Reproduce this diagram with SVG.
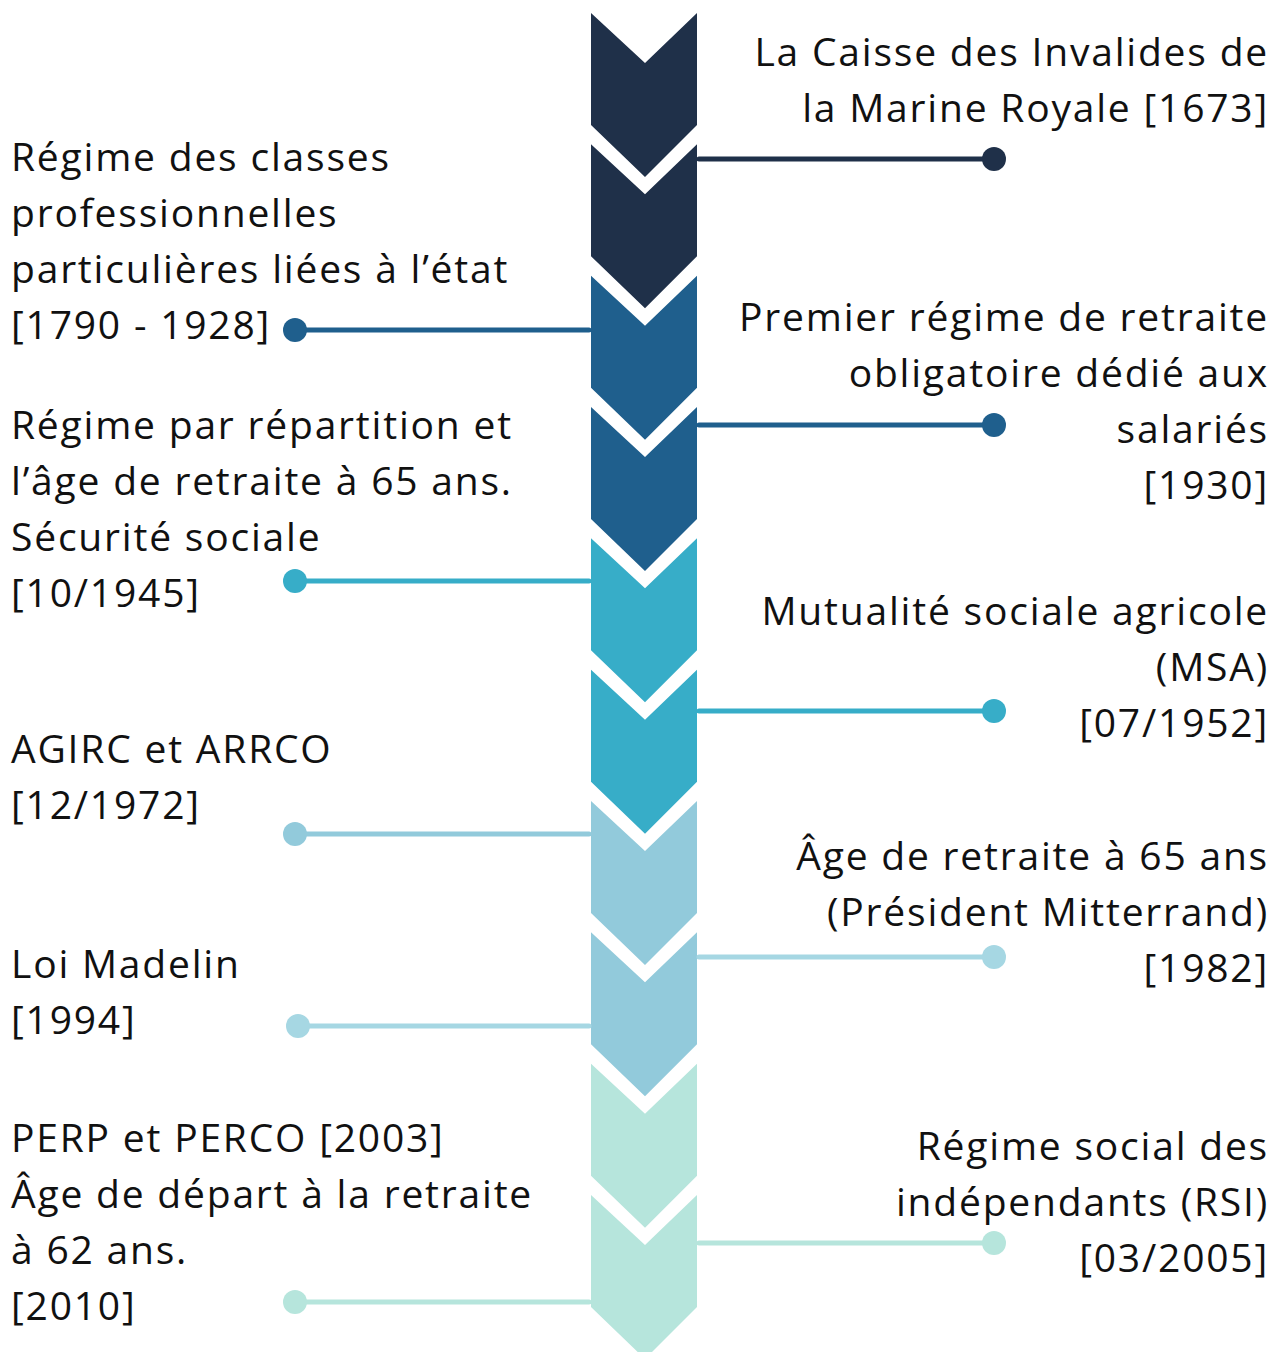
<svg xmlns="http://www.w3.org/2000/svg" width="1274" height="1352" viewBox="0 0 1274 1352">
<style>
  text { font-family: "Open Sans", "Liberation Sans", sans-serif; font-size: 39px; letter-spacing: 1.8px; fill: #111; }
  .r { text-anchor: end; }
  .ln { stroke-width: 5; stroke-linecap: round; fill: none; }
  .c1 { fill: #1f3049; } .s1 { stroke: #1f3049; }
  .c2 { fill: #1f5f8d; } .s2 { stroke: #1f5f8d; }
  .c3 { fill: #37adc8; } .s3 { stroke: #37adc8; }
  .c4 { fill: #92cadb; } .s4 { stroke: #92cadb; }
  .c4b { fill: #a6d7e3; } .s4b { stroke: #a6d7e3; }
  .c5 { fill: #b6e5dc; } .s5 { stroke: #b6e5dc; }
</style>
<defs>
  <path id="chev" d="M591,0 L645,50 L697,0 L697,112 L645,164 L591,112 Z"/>
</defs>
<rect width="1274" height="1352" fill="#ffffff"/>
<g id="chevrons">
  <use href="#chev" class="c1" transform="translate(0,13)"/>
  <use href="#chev" class="c1" transform="translate(0,144.3)"/>
  <use href="#chev" class="c2" transform="translate(0,275.7)"/>
  <use href="#chev" class="c2" transform="translate(0,407)"/>
  <use href="#chev" class="c3" transform="translate(0,538.3)"/>
  <use href="#chev" class="c3" transform="translate(0,669.7)"/>
  <use href="#chev" class="c4" transform="translate(0,801)"/>
  <use href="#chev" class="c4" transform="translate(0,932.3)"/>
  <use href="#chev" class="c5" transform="translate(0,1063.7)"/>
  <use href="#chev" class="c5" transform="translate(0,1195)"/>
</g>
<g id="connectors">
  <line class="ln s1" x1="699" y1="159" x2="994" y2="159"/><circle class="c1" cx="994" cy="159" r="12"/>
  <line class="ln s2" x1="295" y1="330" x2="589" y2="330"/><circle class="c2" cx="295" cy="330" r="12"/>
  <line class="ln s2" x1="699" y1="425" x2="994" y2="425"/><circle class="c2" cx="994" cy="425" r="12"/>
  <line class="ln s3" x1="295" y1="581" x2="589" y2="581"/><circle class="c3" cx="295" cy="581" r="12"/>
  <line class="ln s3" x1="699" y1="711" x2="994" y2="711"/><circle class="c3" cx="994" cy="711" r="12"/>
  <line class="ln s4" x1="295" y1="834" x2="589" y2="834"/><circle class="c4" cx="295" cy="834" r="12"/>
  <line class="ln s4b" x1="699" y1="957" x2="994" y2="957"/><circle class="c4b" cx="994" cy="957" r="12"/>
  <line class="ln s4b" x1="298" y1="1026" x2="589" y2="1026"/><circle class="c4b" cx="298" cy="1026" r="12"/>
  <line class="ln s5" x1="699" y1="1243" x2="994" y2="1243"/><circle class="c5" cx="994" cy="1243" r="12"/>
  <line class="ln s5" x1="295" y1="1302" x2="589" y2="1302"/><circle class="c5" cx="295" cy="1302" r="12"/>
</g>
<g id="n1"><text class="r" x="1269" y="66">La Caisse des Invalides de</text><text class="r" x="1269" y="122">la Marine Royale [1673]</text></g>
<g id="n2"><text x="11" y="171">Régime des classes</text><text x="11" y="227">professionnelles</text><text x="11" y="283">particulières liées à l’état</text><text x="11" y="339">[1790 - 1928]</text></g>
<g id="n3"><text class="r" x="1269" y="331">Premier régime de retraite</text><text class="r" x="1269" y="387">obligatoire dédié aux</text><text class="r" x="1269" y="443">salariés</text><text class="r" x="1269" y="499">[1930]</text></g>
<g id="n4"><text x="11" y="439">Régime par répartition et</text><text x="11" y="495">l’âge de retraite à 65 ans.</text><text x="11" y="551">Sécurité sociale</text><text x="11" y="607">[10/1945]</text></g>
<g id="n5"><text class="r" x="1269" y="625">Mutualité sociale agricole</text><text class="r" x="1269" y="681">(MSA)</text><text class="r" x="1269" y="737">[07/1952]</text></g>
<g id="n6"><text x="11" y="763">AGIRC et ARRCO</text><text x="11" y="819">[12/1972]</text></g>
<g id="n7"><text class="r" x="1269" y="870">Âge de retraite à 65 ans</text><text class="r" x="1269" y="926">(Président Mitterrand)</text><text class="r" x="1269" y="982">[1982]</text></g>
<g id="n8"><text x="11" y="978">Loi Madelin</text><text x="11" y="1034">[1994]</text></g>
<g id="n9"><text class="r" x="1269" y="1160">Régime social des</text><text class="r" x="1269" y="1216">indépendants (RSI)</text><text class="r" x="1269" y="1272">[03/2005]</text></g>
<g id="n10"><text x="11" y="1152">PERP et PERCO [2003]</text><text x="11" y="1208">Âge de départ à la retraite</text><text x="11" y="1264">à 62 ans.</text><text x="11" y="1320">[2010]</text></g>
</svg>
